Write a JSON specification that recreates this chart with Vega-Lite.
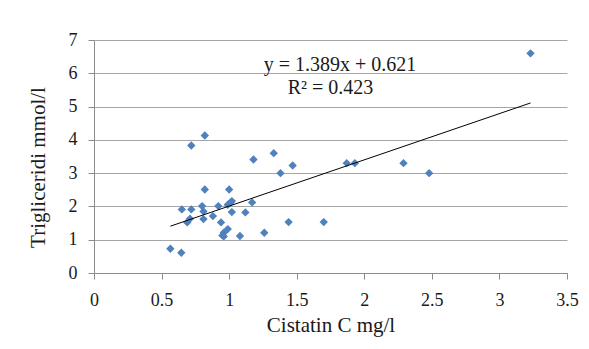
{
  "$schema": "https://vega.github.io/schema/vega-lite/v6.json",
  "width": 473,
  "height": 233,
  "autosize": {"type": "none"},
  "padding": {"left": 94, "top": 40, "right": 22, "bottom": 76},
  "background": "white",
  "config": {
    "view": {"stroke": null},
    "font": "Liberation Serif",
    "axis": {
      "labelFont": "Liberation Serif",
      "titleFont": "Liberation Serif",
      "labelFontSize": 18,
      "titleFontSize": 21,
      "titleFontWeight": "normal",
      "labelColor": "#1a1a1a",
      "titleColor": "#1a1a1a",
      "domainColor": "#8c8c8c",
      "tickColor": "#8c8c8c",
      "tickSize": 6,
      "gridColor": "#a6a6a6"
    }
  },
  "datasets": {
    "points": [
      {"cistatin": 3.23, "trig": 6.6},
      {"cistatin": 0.72, "trig": 3.83},
      {"cistatin": 0.82, "trig": 4.13},
      {"cistatin": 1.18, "trig": 3.41},
      {"cistatin": 1.33, "trig": 3.6},
      {"cistatin": 1.47, "trig": 3.23},
      {"cistatin": 1.38, "trig": 3.0},
      {"cistatin": 1.87, "trig": 3.3},
      {"cistatin": 1.93, "trig": 3.3},
      {"cistatin": 2.29, "trig": 3.3},
      {"cistatin": 2.48, "trig": 3.0},
      {"cistatin": 1.44, "trig": 1.53},
      {"cistatin": 1.70, "trig": 1.53},
      {"cistatin": 0.82, "trig": 2.51},
      {"cistatin": 1.0, "trig": 2.51},
      {"cistatin": 0.65, "trig": 1.91},
      {"cistatin": 0.72, "trig": 1.91},
      {"cistatin": 0.80, "trig": 2.01},
      {"cistatin": 0.81, "trig": 1.85},
      {"cistatin": 0.92, "trig": 2.01},
      {"cistatin": 1.01, "trig": 2.11},
      {"cistatin": 0.99, "trig": 2.05},
      {"cistatin": 1.02, "trig": 2.16},
      {"cistatin": 1.17, "trig": 2.12},
      {"cistatin": 1.02, "trig": 1.83},
      {"cistatin": 1.12, "trig": 1.82},
      {"cistatin": 0.88, "trig": 1.71},
      {"cistatin": 0.71, "trig": 1.63},
      {"cistatin": 0.69, "trig": 1.52},
      {"cistatin": 0.81, "trig": 1.62},
      {"cistatin": 0.94, "trig": 1.52},
      {"cistatin": 0.99, "trig": 1.32},
      {"cistatin": 0.96, "trig": 1.21},
      {"cistatin": 0.95, "trig": 1.13},
      {"cistatin": 0.96, "trig": 1.10},
      {"cistatin": 1.08, "trig": 1.11},
      {"cistatin": 1.26, "trig": 1.21},
      {"cistatin": 0.565, "trig": 0.73},
      {"cistatin": 0.646, "trig": 0.61}
    ],
    "trend": [
      {"cistatin": 0.565, "trig": 1.406},
      {"cistatin": 3.23, "trig": 5.108}
    ],
    "labels": [
      {"cistatin": 1.82, "trig": 6.24, "text": "y = 1.389x + 0.621"},
      {"cistatin": 1.75, "trig": 5.55, "text": "R² = 0.423"}
    ]
  },
  "encoding": {
    "x": {
      "field": "cistatin", "type": "quantitative",
      "scale": {"domain": [0, 3.5], "nice": false, "zero": true},
      "axis": {
        "title": "Cistatin C mg/l",
        "values": [0, 0.5, 1, 1.5, 2, 2.5, 3, 3.5],
        "format": "~g",
        "grid": false,
        "labelPadding": 12,
        "labelFlush": false,
        "labelOverlap": false,
        "titlePadding": 5
      }
    },
    "y": {
      "field": "trig", "type": "quantitative",
      "scale": {"domain": [0, 7], "nice": false},
      "axis": {
        "title": "Trigliceridi mmol/l",
        "tickCount": 7,
        "format": "d",
        "grid": true,
        "labelPadding": 11,
        "labelFlush": false,
        "labelOverlap": false,
        "titlePadding": 20,
        "titleY": 127
      }
    }
  },
  "layer": [
    {
      "data": {"name": "points"},
      "mark": {"type": "point", "shape": "diamond", "filled": true, "size": 70, "color": "#4f81bd", "opacity": 1}
    },
    {
      "data": {"name": "trend"},
      "mark": {"type": "line", "color": "black", "strokeWidth": 1}
    },
    {
      "data": {"name": "labels"},
      "mark": {"type": "text", "font": "Liberation Serif", "fontSize": 20, "color": "#1a1a1a", "align": "center", "baseline": "middle"},
      "encoding": {
        "text": {"field": "text", "type": "nominal"}
      }
    }
  ]
}
